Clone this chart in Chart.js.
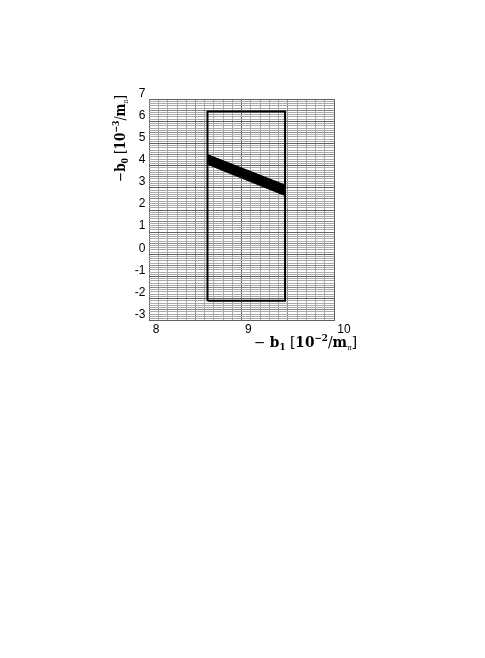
<!DOCTYPE html>
<html>
<head>
<meta charset="utf-8">
<script src="https://cdn.jsdelivr.net/npm/chart.js@4/dist/chart.umd.min.js"></script>
<style>
  html, body { margin: 0; padding: 0; background: #fff; }
  #wrap { width: 485px; height: 658px; position: relative; }
</style>
</head>
<body>
<div id="wrap"><canvas id="chart"></canvas></div>
<script>
// axis ranges and labelled ticks
const xRange = [8, 10]
const yRange = [-3, 7]
const xTicks = [8, 9, 10]
const yTicks = [-3, -2, -1, 0, 1, 2, 3, 4, 5, 6, 7]

// rectangle (x from / to, y from / to)
const boxX = [8.63, 9.47]
const boxY = [-2.1, 6.45]

// black band: upper and lower edge at both ends
const bandX = [8.63, 9.47]
const bandUpper = [4.50, 3.13]
const bandLower = [4.06, 2.65]

// axis titles, pieces of rich text
const xTitle = [
  {t: "\u2212 "}, {t: "b", b: 1}, {t: "1", b: 1, sub: 1}, {t: " ["}, {t: "10", b: 1},
  {t: "\u22122", b: 1, sup: 1}, {t: "/"}, {t: "m", b: 1}, {t: "\u03c0", sub: 2}, {t: "]"}
]
const yTitle = [
  {t: "\u2212"}, {t: "b", b: 1}, {t: "0", b: 1, sub: 1}, {t: " ["}, {t: "10", b: 1},
  {t: "\u22123", b: 1, sup: 1}, {t: "/"}, {t: "m", b: 1}, {t: "\u03c0", sub: 2}, {t: "]"}
]

function isWhole(v) { return Math.abs(v - Math.round(v)) < 1e-6 }
function isHalf(v) { return Math.abs(v * 2 - Math.round(v * 2)) < 1e-6 }

function gridColor(c) {
  if (!c.tick) return "#a8a8a8"
  const v = c.tick.value
  if (isWhole(v)) return "#606060"
  if (isHalf(v)) return "#888888"
  return "#a8a8a8"
}

// font of one piece
function pieceFont(p) {
  let size = 14
  if (p.sup || p.sub === 1) size = 9
  if (p.sub === 2) size = 7
  return (p.b ? "bold " : "") + size + "px 'DejaVu Serif', 'Liberation Serif', serif"
}
function pieceShift(p) {
  if (p.sup) return -6
  if (p.sub) return 3
  return 0
}

function richWidth(ctx, parts) {
  let w = 0
  parts.forEach(p => { ctx.font = pieceFont(p); w += ctx.measureText(p.t).width })
  return w
}
// draws the pieces from x, squeezed to the wanted width
function drawRich(ctx, parts, x, y, width) {
  const k = width / richWidth(ctx, parts)
  ctx.save()
  ctx.translate(x, y)
  ctx.scale(k, 1)
  let cx = 0
  parts.forEach(p => {
    ctx.font = pieceFont(p)
    ctx.fillText(p.t, cx, pieceShift(p))
    cx += ctx.measureText(p.t).width
  })
  ctx.restore()
}

// draws both axis titles
const titlePlugin = {
  id: "titles",
  afterDraw(chart) {
    const ctx = chart.ctx
    ctx.save()
    ctx.fillStyle = "#000"
    ctx.textBaseline = "alphabetic"
    ctx.textAlign = "left"
    drawRich(ctx, xTitle, 254, 347, 103)
    ctx.translate(124.5, 182)
    ctx.rotate(-Math.PI / 2)
    drawRich(ctx, yTitle, 0, 0, 87)
    ctx.restore()
  }
}

const boxPoints = [
  {x: boxX[0], y: boxY[0]}, {x: boxX[0], y: boxY[1]},
  {x: boxX[1], y: boxY[1]}, {x: boxX[1], y: boxY[0]}, {x: boxX[0], y: boxY[0]}
]

const ctx = document.getElementById("chart").getContext("2d")
new Chart(ctx, {
  type: "scatter",
  data: {
    datasets: [
      {
        data: bandX.map((x, i) => ({x: x, y: bandUpper[i]})),
        showLine: true, borderColor: "#000", borderWidth: 1,
        backgroundColor: "#000", fill: "+1", pointRadius: 0
      },
      {
        data: bandX.map((x, i) => ({x: x, y: bandLower[i]})),
        showLine: true, borderColor: "#000", borderWidth: 1,
        pointRadius: 0, fill: false
      },
      {
        data: boxPoints,
        showLine: true, borderColor: "#000", borderWidth: 2,
        pointRadius: 0, fill: false, tension: 0
      }
    ]
  },
  options: {
    responsive: true,
    maintainAspectRatio: false,
    animation: false,
    layout: { padding: { left: 119.3, right: 151, top: 99.2, bottom: 307.2 } },
    plugins: { legend: { display: false }, tooltip: { enabled: false } },
    scales: {
      x: {
        type: "linear", min: xRange[0], max: xRange[1],
        afterFit: s => { s.height = 30 },
        border: { display: false },
        grid: { color: gridColor, lineWidth: 1, drawTicks: false },
        ticks: {
          stepSize: 0.1, autoSkip: false, maxRotation: 0, align: "start", padding: 2,
          color: "#000", font: { family: "'Liberation Sans', Arial, sans-serif", size: 12 },
          callback: v => xTicks.some(t => Math.abs(t - v) < 1e-6) ? " " + Math.round(v) : ""
        }
      },
      y: {
        type: "linear", min: yRange[0], max: yRange[1],
        afterFit: s => { s.width = 30 },
        border: { display: false },
        grid: { color: gridColor, lineWidth: 1, drawTicks: false },
        ticks: {
          stepSize: 0.1, autoSkip: false, align: "end", padding: 4,
          color: "#000", font: { family: "'Liberation Sans', Arial, sans-serif", size: 12 },
          callback: v => yTicks.some(t => Math.abs(t - v) < 1e-6) ? String(Math.round(v)) : ""
        }
      }
    }
  },
  plugins: [titlePlugin]
})
</script>
</body>
</html>
